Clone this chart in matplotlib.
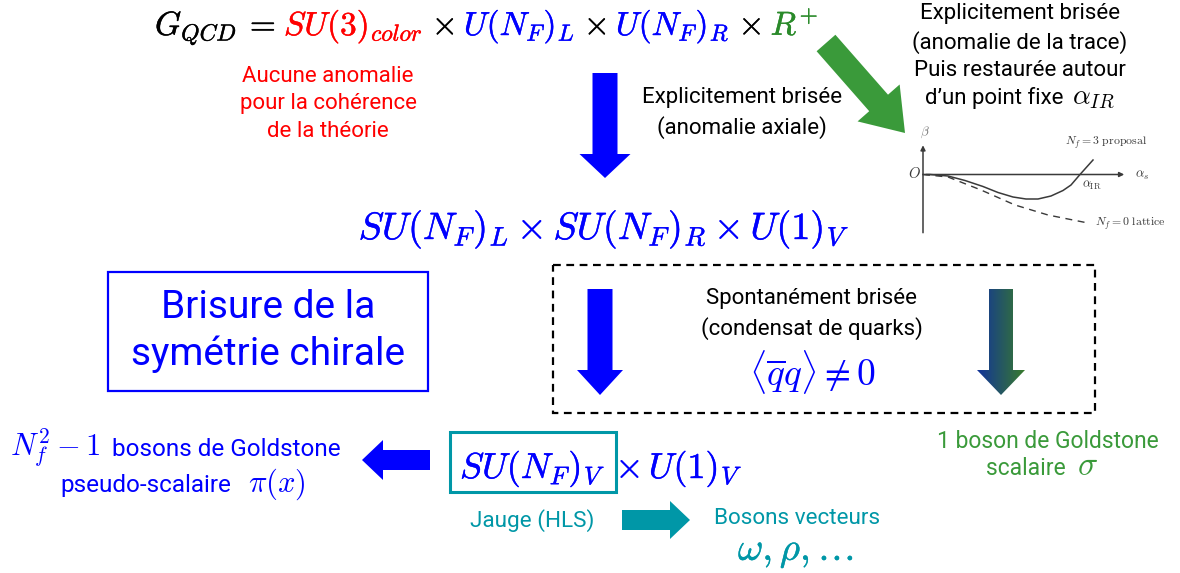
import matplotlib.pyplot as plt
import numpy as np
import matplotlib.patheffects as pe
from matplotlib.patches import Polygon, Rectangle
from matplotlib.colors import LinearSegmentedColormap

plt.rcParams['font.family'] = ['Roboto', 'DejaVu Sans']
plt.rcParams['mathtext.fontset'] = 'cm'

BLUE = '#0000ff'
RED = '#ff0000'
GREEN = '#3a9a3a'
DGREEN = '#2a8a2a'
TEAL = '#0097a7'
GRAY = '#3a3a3a'

# inset: beta function sketch (alpha_s, beta)
alpha_nf3 = [0, 0.35, 1.25, 2.1, 3.0, 3.75, 4.5, 5.15, 5.75, 6.4, 7.0, 7.4, 7.85, 8.5]
beta_nf3 = [0, 0, -0.15, -0.6, -1.2, -1.8, -2.25, -2.45, -2.45, -2.15, -1.6, -1.05, 0, 1.45]
alpha_nf0 = [0, 1.25, 2.9, 4.6, 6.25, 8.25]
beta_nf0 = [0, -0.25, -1.55, -3.05, -4.05, -4.85]

# block arrows: tail, tip, shaft width, head width, head length, colour
arrows = [
    ((605, 73), (605, 178), 25, 51, 24, BLUE),
    ((826, 43), (905, 133), 25, 56, 40, GREEN),
    ((600, 289), (600, 395), 25, 46, 25, BLUE),
    ((430, 460), (362, 460), 20, 40, 21, BLUE),
    ((622, 520), (690, 520), 20, 38, 20, TEAL),
]
grad_arrow = ((1001, 289), (1001, 395), 24, 48, 25)

fig = plt.figure(figsize=(11.8, 5.73), dpi=100)
ax = fig.add_axes([0, 0, 1, 1])
ax.set_xlim(0, 1180)
ax.set_ylim(573, 0)
ax.axis('off')
r = fig.canvas.get_renderer()


def heavy(color, w=0.3):
    return [pe.withStroke(linewidth=w, foreground=color)]


def block_arrow(tail, tip, sw, hw, hl, color):
    tail = np.array(tail, float)
    tip = np.array(tip, float)
    d = tip - tail
    u = d / np.hypot(*d)
    n = np.array([-u[1], u[0]])
    base = tip - u * hl
    pts = [tail + n * sw / 2, base + n * sw / 2, base + n * hw / 2, tip,
           base - n * hw / 2, base - n * sw / 2, tail - n * sw / 2]
    p = Polygon(pts, closed=True, fc=color if color else 'none', ec='none')
    ax.add_patch(p)
    return p


def text_row(pieces, x, y, ha='left', bold=False):
    objs = []
    cur = x
    for s, size, color, gap in pieces:
        t = ax.text(cur, y, s, fontsize=size, color=color, va='baseline', ha='left')
        if bold and s.startswith('$'):
            t.set_path_effects(heavy(color))
        cur += t.get_window_extent(r).width + gap
        objs.append(t)
    if ha == 'center':
        shift = (cur - x) / 2
        for t in objs:
            t.set_x(t.get_position()[0] - shift)
    return objs


for a in arrows:
    block_arrow(*a)

gp = block_arrow(*grad_arrow, None)
cmap = LinearSegmentedColormap.from_list('bg', ['#10309e', '#3a7e28'])
im = ax.imshow(np.linspace(0, 1, 100).reshape(1, -1), cmap=cmap, aspect='auto',
               extent=[975, 1027, 397, 287], zorder=2)
im.set_clip_path(gp)
ax.set_xlim(0, 1180)
ax.set_ylim(573, 0)

# boxes
ax.add_patch(Rectangle((553, 265), 542, 148, fill=False, ec='black', lw=1.6, ls=(0, (3.5, 2.5))))
ax.add_patch(Rectangle((108, 272), 320, 119, fill=False, ec=BLUE, lw=1.6))
ax.add_patch(Rectangle((450, 432), 166, 60, fill=False, ec=TEAL, lw=2.2))

# top formula
text_row([(r'$G_{QCD}$', 24, 'black', 7), (r'$=$', 24, 'black', 8),
          (r'$SU(3)_{color}$', 24, RED, 9), (r'$\times$', 24, 'black', 9),
          (r'$U(N_F)_L$', 24, BLUE, 9), (r'$\times$', 24, 'black', 9),
          (r'$U(N_F)_R$', 24, BLUE, 9), (r'$\times$', 24, 'black', 9),
          (r'$R^{+}$', 24, DGREEN, 0)], 155, 35, bold=True)

ax.text(328, 104, 'Aucune anomalie\npour la cohérence\nde la théorie', color=RED,
        fontsize=16, ha='center', va='center', linespacing=1.4)
ax.text(742, 113, 'Explicitement brisée\n(anomalie axiale)', color='black',
        fontsize=16, ha='center', va='center', linespacing=1.4)
ax.text(1020, 42, 'Explicitement brisée\n(anomalie de la trace)\nPuis restaurée autour',
        color='black', fontsize=16, ha='center', va='center', linespacing=1.4)
text_row([('d’un point fixe', 16, 'black', 9), (r'$\alpha_{IR}$', 20, 'black', 0)],
         1020, 104, ha='center')

# middle formula
t = ax.text(604, 239, r'$SU(N_F)_L \times SU(N_F)_R \times U(1)_V$', color=BLUE,
            fontsize=27.5, ha='center', va='baseline')
t.set_path_effects(heavy(BLUE))

ax.text(268, 331, 'Brisure de la\nsymétrie chirale', color=BLUE, fontsize=28,
        ha='center', va='center', linespacing=1.35)

ax.text(812, 314, 'Spontanément brisée\n(condensat de quarks)', color='black',
        fontsize=16, ha='center', va='center', linespacing=1.4)
ax.text(812, 386, r'$\langle \overline{q} q\rangle \neq 0$', color=BLUE,
        fontsize=27, ha='center', va='baseline')

# bottom
text_row([(r'$SU(N_F)_V$', 26, BLUE, 10), (r'$\times\, U(1)_V$', 26, BLUE, 0)], 460, 478, bold=True)

text_row([(r'$N_f^2 - 1$', 22, BLUE, 12), ('bosons de Goldstone', 17.5, BLUE, 0)], 10, 456)
text_row([('pseudo-scalaire', 17.5, BLUE, 16), (r'$\pi(x)$', 22, BLUE, 0)], 183, 492, ha='center')

ax.text(1048, 448, '1 boson de Goldstone', color=GREEN, fontsize=16.5, ha='center', va='baseline')
text_row([('scalaire', 16.5, GREEN, 12), (r'$\sigma$', 24, GREEN, 0)], 1042, 475, ha='center')

ax.text(532, 527, 'Jauge (HLS)', color=TEAL, fontsize=16.2, ha='center', va='baseline')
ax.text(797, 524, 'Bosons vecteurs', color=TEAL, fontsize=16.2, ha='center', va='baseline')
t = ax.text(796, 560, r'$\omega, \rho, \ldots$', color=TEAL, fontsize=28, ha='center', va='baseline')
t.set_path_effects(heavy(TEAL))

# inset beta-function plot
ins = fig.add_axes([905 / 1180, 1 - 245 / 573, 275 / 1180, 125 / 573])
ins.set_xlim(-0.9, 12.85)
ins.set_ylim(-7.05, 5.45)
ins.axis('off')
ins.annotate('', xy=(10.2, 0), xytext=(0, 0),
             arrowprops=dict(arrowstyle='-|>', color=GRAY, lw=1.1, mutation_scale=7))
ins.annotate('', xy=(0, 3.2), xytext=(0, -6.1),
             arrowprops=dict(arrowstyle='-|>', color=GRAY, lw=1.1, mutation_scale=7))
ins.plot(alpha_nf3, beta_nf3, color=GRAY, lw=1.1)
ins.plot(alpha_nf0, beta_nf0, color=GRAY, lw=1.0, ls=(0, (5, 4)))
ins.text(0.1, 4.2, r'$\beta$', fontsize=9.5, color='#777777', ha='center', va='center')
ins.text(-0.45, 0.15, r'$O$', fontsize=10.5, color=GRAY, ha='center', va='center')
ins.text(10.6, -0.05, r'$\alpha_s$', fontsize=9.5, color=GRAY, ha='left', va='center')
ins.text(7.1, 3.2, r'$N_f = 3\ \mathrm{proposal}$', fontsize=8.5, color=GRAY, ha='left', va='center')
ins.text(7.95, -1.05, r'$\alpha_{\mathrm{IR}}$', fontsize=9, color=GRAY, ha='left', va='center')
ins.text(8.6, -4.9, r'$N_f = 0\ \mathrm{lattice}$', fontsize=8.5, color=GRAY, ha='left', va='center')

fig.savefig('out.png', dpi=100)
